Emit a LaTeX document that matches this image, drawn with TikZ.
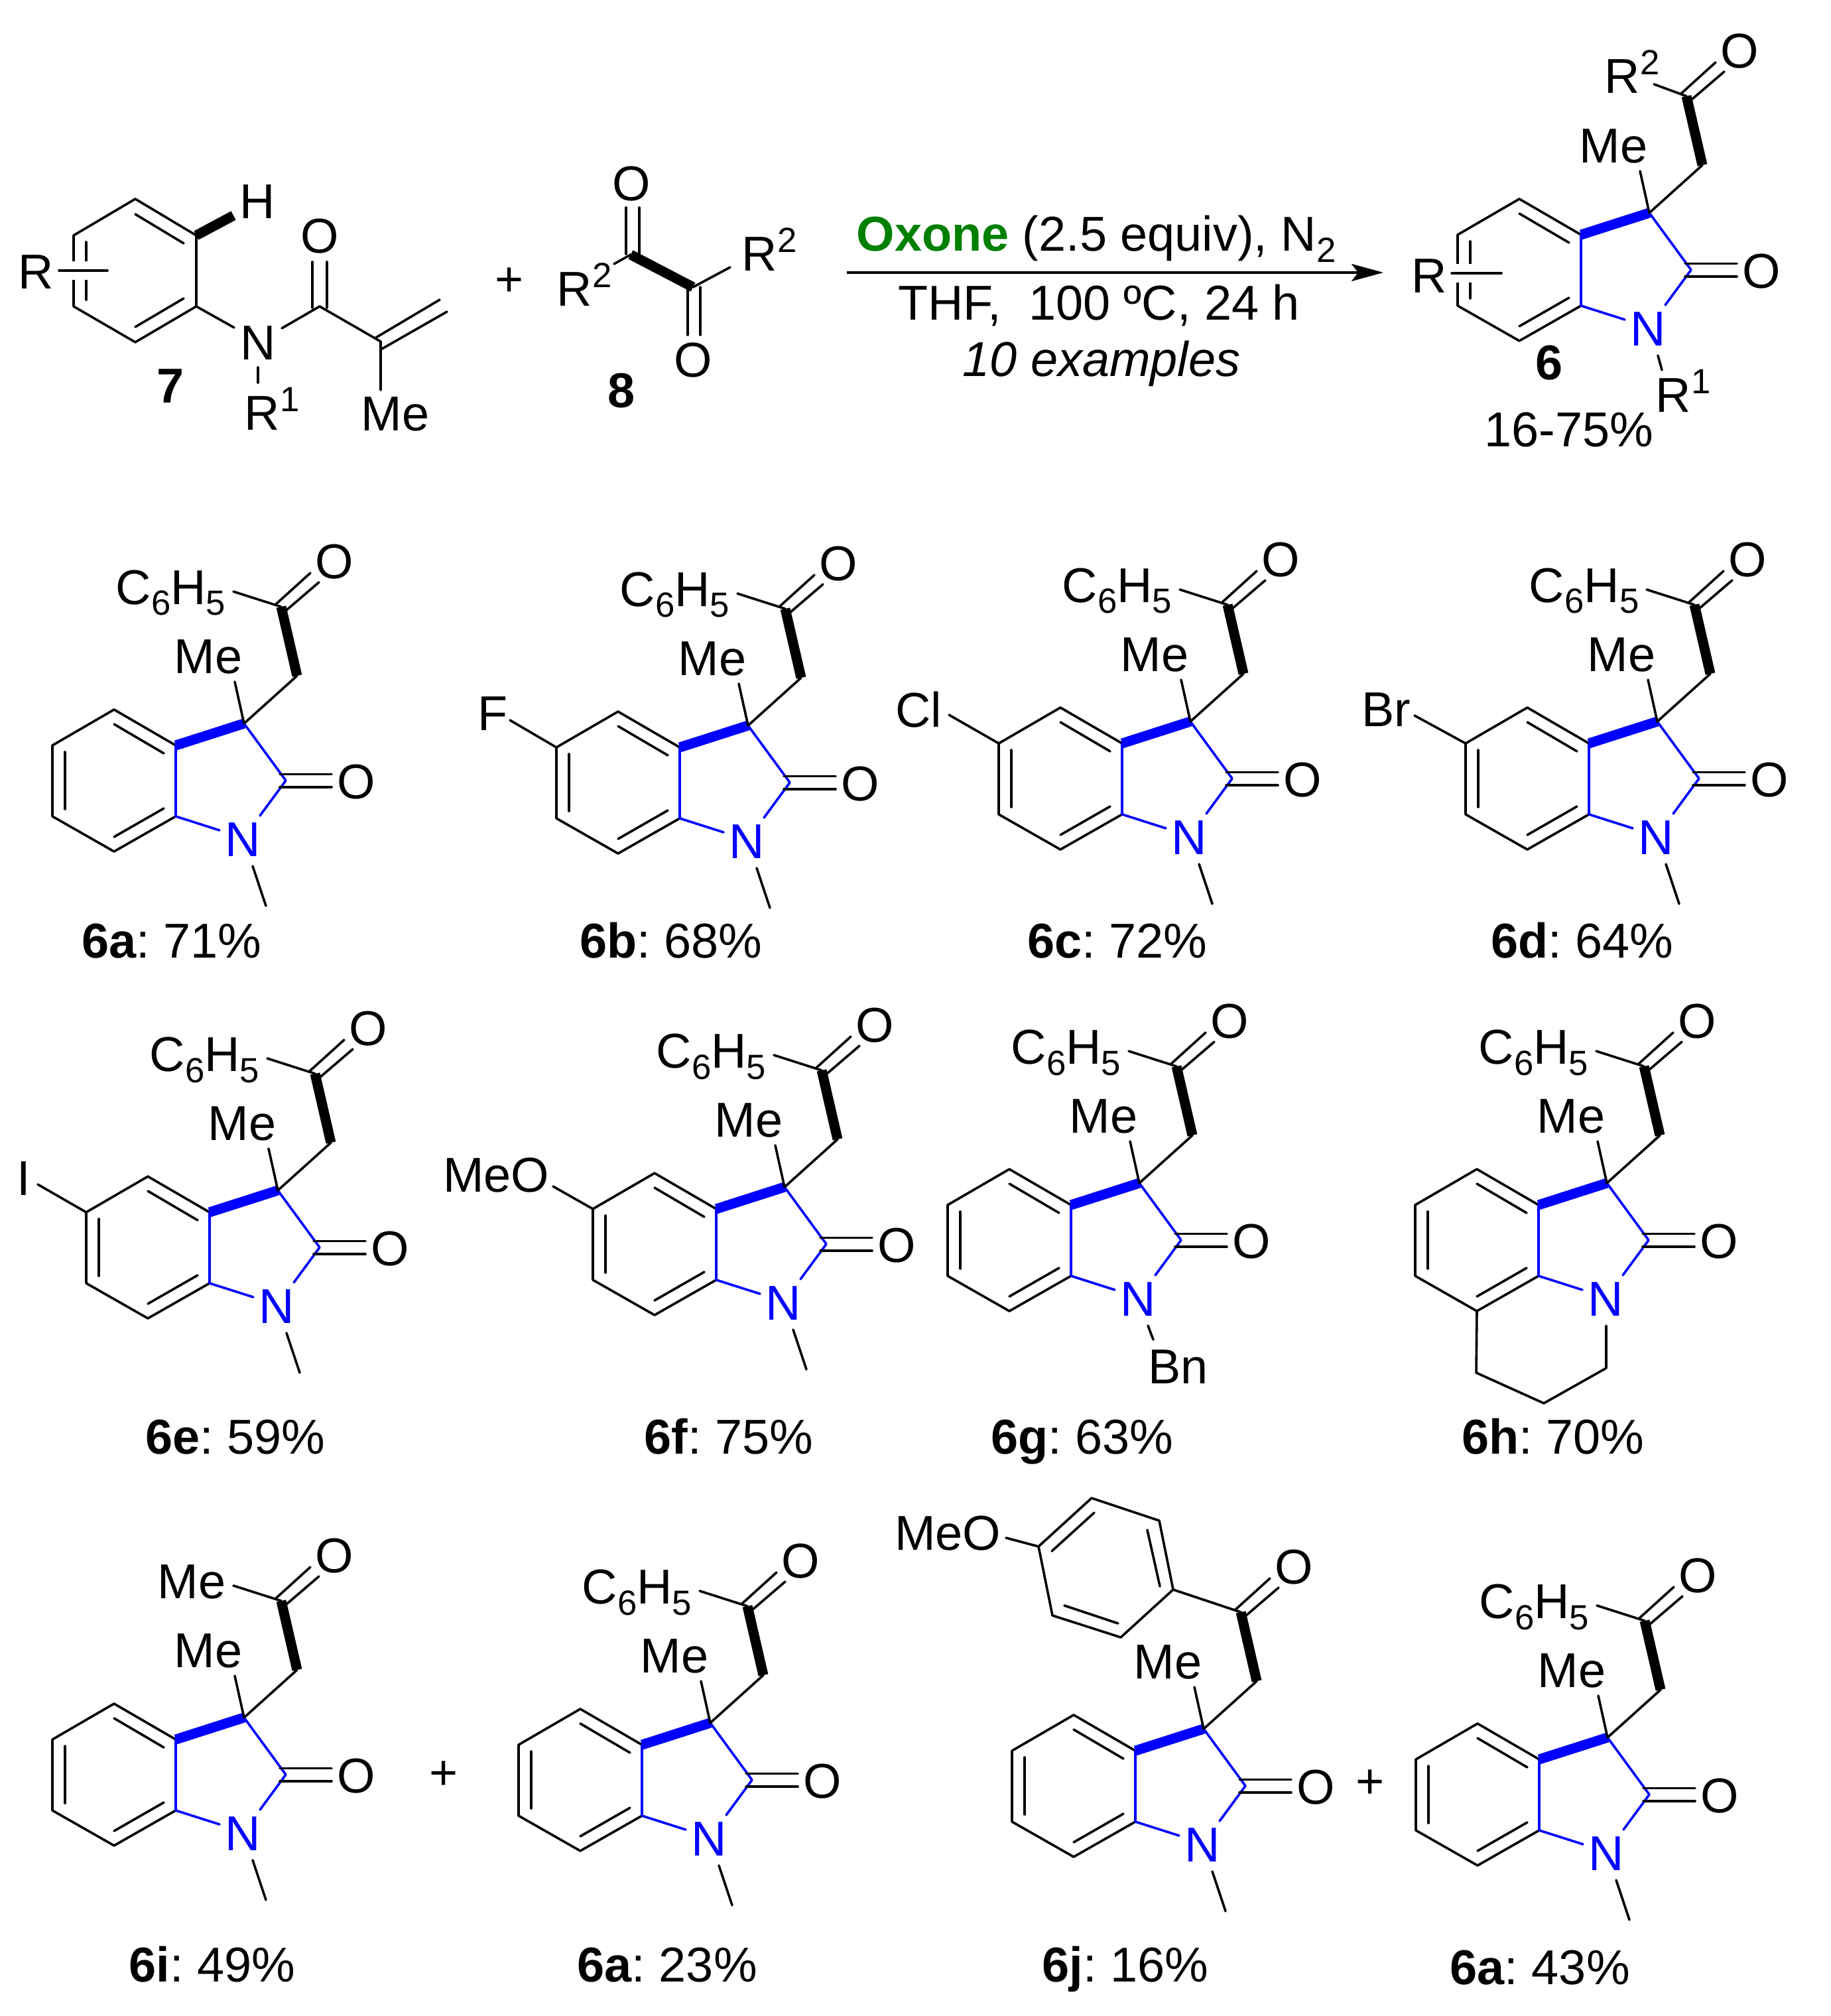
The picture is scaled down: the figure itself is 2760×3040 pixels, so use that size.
\documentclass[tikz,border=0pt]{standalone}
\usepackage{fontspec}
\setmainfont{Liberation Sans}
\usetikzlibrary{arrows.meta}
\definecolor{oxgreen}{RGB}{0,128,0}
\newcommand{\lowr}[1]{\raisebox{-0.23em}{\fontsize{15}{15}\selectfont #1}}
\newcommand{\upr}[1]{\raisebox{0.39em}{\fontsize{15}{15}\selectfont #1}}
\tikzset{
 bond/.style={line width=0.36mm,line cap=round,line join=round},
 bluebond/.style={bond,blue},
 boldbond/.style={line width=1.5mm,line cap=butt},
 crossbond/.style={bond,preaction={draw=white,line width=2.8mm,line cap=butt}},
 atom/.style={inner sep=0pt,font=\fontsize{21}{25}\selectfont\frenchspacing},
 label/.style={atom,anchor=base},
}
%oxindole skeleton, origin at C3
\newcommand{\oxindole}[2]{
 \begin{scope}[shift={(#2)},name prefix=#1-]
  \coordinate (c3) at (0,0);
  \coordinate (c3a) at (-103,33);
  \coordinate (c4) at (-196,-21);
  \coordinate (c5) at (-289,33);
  \coordinate (c6) at (-289,140);
  \coordinate (c7) at (-196,193);
  \coordinate (c7a) at (-103,140);
  \coordinate (c2) at (63,86);
  \coordinate (ch2) at (80,-72);
  \coordinate (co) at (56,-176);
  \coordinate (nsub) at (13,215);
  \node[atom,blue] (N) at (-2,175) {N};
  \node[atom] (olac) at (169,88) {O};
  \node[atom] (oket) at (136,-244) {O};
  \node[atom] (me) at (-54,-101) {Me};
  \draw[bond] (c3a)--(c4)--(c5)--(c6)--(c7)--(c7a); %benzene
  \draw[bond] (-196,1)--(-121,45);
  \draw[bond] (-196,171)--(-121,128);
  \draw[bond] (-270,43)--(-270,129);
  \draw[bluebond] (c3a)--(c7a)--(-37,161); %five ring
  \draw[bluebond] (24,139)--(c2)--(c3);
  \draw[boldbond,blue] (c3a)--(c3);
  \draw[bond] (54,76.5)--(132,76.5); %lactam C=O
  \draw[bond] (54,96)--(132,96);
  \draw[bond] (c3)--(-14,-63); %Me
  \draw[bond] (c3)--(ch2);
  \draw[boldbond] (ch2)--(co);
  \draw[bond] (47,-179)--(100,-227); %ketone C=O
  \draw[bond] (64,-171)--(113,-213);
 \end{scope}
}
\newcommand{\sidegroup}[2]{
 \begin{scope}[shift={(#1-c3)},name prefix=#1-]
  \node[atom,anchor=base east] (side) at (-27,-180) {#2};
  \coordinate (sidend) at (-16,-199);
  \draw[bond] (sidend)--(co);
 \end{scope}
}
\newcommand{\nmethyl}[1]{
 \begin{scope}[shift={(#1-c3)},name prefix=#1-]
  \coordinate (nme) at (33,275);
  \draw[bond] (nsub)--(nme);
 \end{scope}
}
\newcommand{\nlabel}[4]{
 \begin{scope}[shift={(#1-c3)},name prefix=#1-]
  \coordinate (nend) at (#3);
  \node[atom,anchor=base west] (nr) at (#4) {#2};
  \draw[bond] (nsub)--(nend);
 \end{scope}
}
\newcommand{\ringsub}[4]{
 \begin{scope}[shift={(#1-c3)},name prefix=#1-]
  \node[atom,anchor=east] (subst) at (#3,-18) {#2};
  \coordinate (subend) at (#4);
  \draw[bond] (c5)--(subend);
 \end{scope}
}
\begin{document}
\begin{tikzpicture}[x=0.01cm,y=-0.01cm]
 \useasboundingbox (0,0) rectangle (2760,3040);
 %reactant 7
 \coordinate (a1) at (204,300);
 \coordinate (a2) at (111,355);
 \coordinate (a3) at (111,462);
 \coordinate (a4) at (204,516);
 \coordinate (a5) at (296,462);
 \coordinate (a6) at (296,355);
 \coordinate (acyl) at (482,462);
 \coordinate (vinyl) at (574,515);
 \draw[bond] (a6)--(a1)--(a2)--(a3)--(a4)--(a5)--cycle;
 \draw[bond] (204,323)--(277,367);
 \draw[bond] (204,493)--(277,450);
 \draw[bond] (130,365)--(130,452);
 \coordinate (rcrossa) at (89,408);
 \coordinate (rcrossb) at (162,408);
 \draw[crossbond] (rcrossa)--(rcrossb);
 \node[atom] (ra) at (54,410) {R};
 \node[atom] (ha) at (388,304) {H};
 \coordinate (hend) at (352,325);
 \draw[boldbond] (a6)--(hend);
 \node[atom] (na) at (389,517) {N};
 \node[atom] (oa) at (482,356) {O};
 \node[atom] (mea) at (596,624) {Me};
 \node[atom,anchor=base west] (rone) at (368,649) {R\upr{1}};
 \coordinate (nlefta) at (353,494);
 \coordinate (nrighta) at (425,495);
 \draw[bond] (a5)--(nlefta);
 \draw[bond] (nrighta)--(acyl)--(vinyl)--(574,588);
 \draw[bond] (389,554)--(389,577);
 \draw[bond] (471,464)--(471,395);
 \draw[bond] (493,464)--(493,395);
 \draw[bond] (567,509)--(663,452);
 \draw[bond] (576,526)--(674,470);
 \node[label] (seven) at (257,607) {\textbf{7}};
 \node[atom] (plusa) at (768,425) {+};
 %reactant 8
 \coordinate (b1) at (951,384);
 \coordinate (b2) at (1045,433);
 \node[atom,anchor=base west] (rtwoa) at (839,462) {R\upr{2}};
 \node[atom,anchor=base west] (rtwob) at (1118,409) {R\upr{2}};
 \node[atom] (ob) at (952,277) {O};
 \node[atom] (oc) at (1045,543) {O};
 \draw[bond] (926,398)--(b1);
 \draw[boldbond] (b1)--(b2);
 \draw[bond] (b2)--(1101,403);
 \draw[bond] (944,383)--(944,313);
 \draw[bond] (964,383)--(964,313);
 \draw[bond] (1037,433)--(1037,505);
 \draw[bond] (1056,433)--(1056,505);
 \node[label] (eight) at (937,615) {\textbf{8}};
 %arrow
 \coordinate (arrowa) at (1277,411);
 \coordinate (arrowb) at (2086,411);
 \draw[bond,line cap=butt,->,>={Stealth[length=4.8mm,width=2.6mm,inset=1mm]}] (arrowa)--(arrowb);
 \node[label] (reagent) at (1653,379) {\textcolor{oxgreen}{\textbf{Oxone}} (2.5 equiv), N\lowr{2}};
 \node[label] (solvent) at (1657,483) {THF,\ \ 100 ºC, 24 h};
 \node[label] (scope) at (1661,568) {\textit{10 examples}};
 %product 6
 \oxindole{top}{2487,321}
 \coordinate (rcrossc) at (2189,412);
 \coordinate (rcrossd) at (2264,412);
 \draw[crossbond] (rcrossc)--(rcrossd);
 \node[atom] (rb) at (2155,416) {R};
 \node[atom,anchor=base west] (rtwoc) at (2419,141) {R\upr{2}};
 \coordinate (rtwoend) at (2494,127);
 \draw[bond] (rtwoend)--(top-co);
 \nlabel{top}{R\upr{1}}{19,237}{9,301}
 \node[label] (six) at (2336,573) {\textbf{6}};
 \node[label] (range) at (2366,673) {16-75\%};
 %first row
 \oxindole{ia}{368,1091}
 \sidegroup{ia}{C\lowr{6}H\lowr{5}}
 \nmethyl{ia}
 \node[label] (la) at (259,1444) {\textbf{6a}: 71\%};
 \oxindole{ib}{1128,1094}
 \sidegroup{ib}{C\lowr{6}H\lowr{5}}
 \nmethyl{ib}
 \ringsub{ib}{F}{-362}{-359,-8}
 \node[label] (lb) at (1012,1444) {\textbf{6b}: 68\%};
 \oxindole{ic}{1795,1088}
 \sidegroup{ic}{C\lowr{6}H\lowr{5}}
 \nmethyl{ic}
 \ringsub{ic}{Cl}{-374}{-364,-10}
 \node[label] (lc) at (1685,1444) {\textbf{6c}: 72\%};
 \oxindole{id}{2499,1088}
 \sidegroup{id}{C\lowr{6}H\lowr{5}}
 \nmethyl{id}
 \ringsub{id}{Br}{-371}{-366,-9}
 \node[label] (ld) at (2386,1444) {\textbf{6d}: 64\%};
 %second row
 \oxindole{ie}{419,1795}
 \sidegroup{ie}{C\lowr{6}H\lowr{5}}
 \nmethyl{ie}
 \ringsub{ie}{I}{-372}{-362,-9}
 \node[label] (le) at (355,2192) {\textbf{6e}: 59\%};
 \oxindole{if}{1183,1790}
 \sidegroup{if}{C\lowr{6}H\lowr{5}}
 \nmethyl{if}
 \ringsub{if}{MeO}{-354}{-349,-1}
 \node[label] (lf) at (1099,2192) {\textbf{6f}: 75\%};
 \oxindole{ig}{1718,1784}
 \sidegroup{ig}{C\lowr{6}H\lowr{5}}
 \nlabel{ig}{Bn}{21,236}{13,302}
 \node[label] (lg) at (1632,2192) {\textbf{6g}: 63\%};
 \oxindole{ih}{2423,1784}
 \sidegroup{ih}{C\lowr{6}H\lowr{5}}
 \begin{scope}[shift={(ih-c3)},name prefix=ih-]
  \coordinate (h1) at (-197,286);
  \coordinate (h2) at (-95,332);
  \coordinate (h3) at (-1,279);
  \draw[bond] (c7)--(h1)--(h2)--(h3)--(nsub-|h3); %julolidine ring
 \end{scope}
 \node[label] (lh) at (2342,2192) {\textbf{6h}: 70\%};
 %third row
 \oxindole{ii}{368,2590}
 \sidegroup{ii}{Me}
 \nmethyl{ii}
 \node[label] (li) at (320,2988) {\textbf{6i}: 49\%};
 \node[atom] (plusb) at (669,2677) {+};
 \oxindole{ij}{1071,2598}
 \sidegroup{ij}{C\lowr{6}H\lowr{5}}
 \nmethyl{ij}
 \node[label] (lj) at (1006,2988) {\textbf{6a}: 23\%};
 \oxindole{ik}{1815,2607}
 \nmethyl{ik}
 \begin{scope}[shift={(ik-c3)},name prefix=ik-]
  \coordinate (p1) at (-46,-210);
  \coordinate (p2) at (-67,-314);
  \coordinate (p3) at (-169,-348);
  \coordinate (p4) at (-249,-275);
  \coordinate (p5) at (-228,-171);
  \coordinate (p6) at (-125,-138);
  \coordinate (pome) at (-298,-288);
  \draw[bond] (p1)--(p2)--(p3)--(p4)--(p5)--(p6)--cycle;
  \draw[bond] (-66,-215)--(-85,-300);
  \draw[bond] (-229,-268)--(-165,-326);
  \draw[bond] (-210,-186)--(-129,-159);
  \draw[bond] (p1)--(co);
  \draw[bond] (p4)--(pome);
  \node[atom,anchor=east] (ome) at (-305,-295) {MeO};
 \end{scope}
 \node[label] (lk) at (1697,2988) {\textbf{6j}: 16\%};
 \node[atom] (plusc) at (2066,2690) {+};
 \oxindole{il}{2424,2620}
 \sidegroup{il}{C\lowr{6}H\lowr{5}}
 \nmethyl{il}
 \node[label] (ll) at (2322,2992) {\textbf{6a}: 43\%};
\end{tikzpicture}
\end{document}
